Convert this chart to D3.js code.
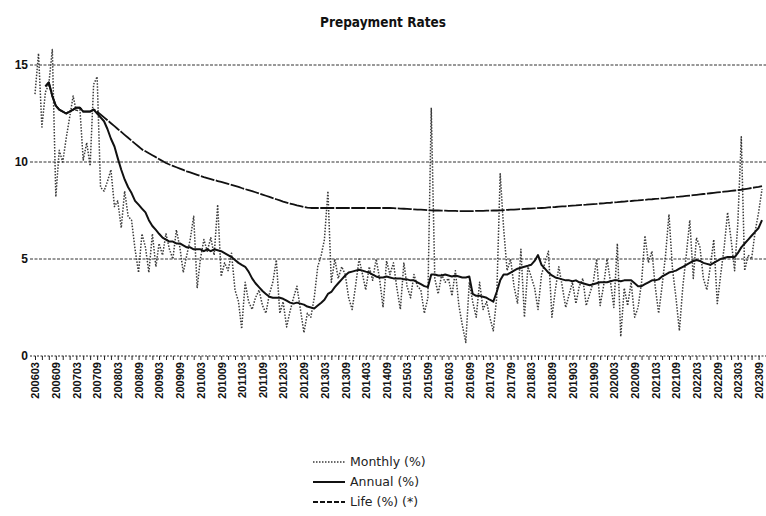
<!DOCTYPE html>
<html>
<head>
<meta charset="utf-8">
<script src="https://cdn.jsdelivr.net/npm/d3@7"></script>
<style>
    body { margin: 0; background: #fff; }
    svg { display: block; font-family: "DejaVu Sans Condensed", "DejaVu Sans", sans-serif; }
</style>
</head>
<body>
<svg id="prepayment"></svg>
<script>
// first month of the series (200603)
const firstMonth = "200603";

// Monthly (%) - one value per month from 200603
const monthlyRate = [
    13.5, 15.6, 11.8, 13.6, 14.0, 15.8, 8.2, 10.6, 10.0, 11.2,
    12.3, 13.4, 12.6, 12.8, 10.1, 11.0, 9.8, 14.0, 14.4, 8.7,
    8.5, 9.0, 9.6, 7.7, 8.0, 6.6, 8.5, 7.2, 7.0, 5.5,
    4.3, 6.3, 5.6, 4.3, 6.3, 4.6, 5.8, 5.2, 6.3, 5.5,
    5.0, 6.5, 5.6, 4.3, 5.2, 6.0, 7.2, 3.5, 5.0, 6.0,
    5.4, 6.1, 5.2, 7.8, 4.1, 4.8, 4.4, 5.3, 3.4, 2.8,
    1.4, 3.8, 2.8, 2.4, 3.0, 3.4, 2.6, 2.2, 3.2, 3.8,
    4.95, 2.2, 2.8, 1.5, 2.3, 3.0, 3.6, 2.4, 1.2, 2.2,
    2.0, 3.0, 4.6, 5.2, 6.0, 8.5, 3.8, 5.0, 4.0, 4.6,
    4.2, 3.0, 2.4, 3.6, 5.0, 4.2, 3.4, 4.6, 3.9, 5.0,
    4.0, 2.5, 4.9, 4.2, 4.8, 3.5, 2.4, 4.8, 3.6, 3.0,
    4.2, 3.6, 3.4, 2.2, 3.0, 12.8, 4.0, 3.2, 4.2, 3.8,
    4.0, 3.1, 4.4, 2.6, 1.6, 0.7, 3.8, 2.8, 2.0, 3.8,
    2.4, 2.8, 2.0, 1.3, 3.0, 9.4, 6.6, 4.4, 5.0, 3.6,
    2.7, 5.5, 2.0, 4.6, 4.1, 3.5, 2.4, 4.2, 4.8, 5.4,
    2.0, 3.4, 4.6, 3.6, 2.5, 3.2, 3.8, 2.7, 3.6, 4.0,
    2.6, 3.2, 3.8, 5.0, 2.6, 3.6, 5.0, 3.8, 2.5, 5.8,
    1.0, 3.5, 2.6, 3.8, 2.0, 2.5, 3.8, 6.2, 4.8, 5.4,
    3.6, 2.2, 3.6, 5.2, 7.3, 4.5, 3.0, 1.3, 3.6, 5.2,
    7.0, 4.0, 6.1, 5.6, 4.0, 3.4, 4.6, 6.0, 2.7, 4.2,
    5.6, 7.4, 6.0, 4.4, 6.8, 11.3, 4.4, 5.2, 5.0, 6.4,
    7.4, 8.6
];

// Annual (%) - same months, empty before the first full value
const annualRate = [
    null, null, null, 13.9, 14.1, 13.4, 12.9, 12.7, 12.6, 12.5,
    12.6, 12.7, 12.8, 12.8, 12.6, 12.6, 12.6, 12.7, 12.5, 12.3,
    12.1, 11.7, 11.2, 10.8, 10.2, 9.6, 9.1, 8.7, 8.4, 8.0,
    7.8, 7.6, 7.4, 7.0, 6.7, 6.5, 6.3, 6.1, 6.0, 5.9,
    5.9, 5.8, 5.8, 5.7, 5.6, 5.6, 5.5, 5.5, 5.5, 5.4,
    5.5, 5.4, 5.5, 5.45, 5.4, 5.3, 5.2, 5.1, 4.95, 4.8,
    4.7, 4.6, 4.35, 4.0, 3.75, 3.55, 3.35, 3.2, 3.05, 3.0,
    3.0, 3.0, 2.95, 2.85, 2.75, 2.7, 2.75, 2.7, 2.65, 2.55,
    2.5, 2.45, 2.6, 2.75, 2.9, 3.2, 3.3, 3.55, 3.75, 3.95,
    4.15, 4.3, 4.35, 4.4, 4.45, 4.4, 4.35, 4.3, 4.2, 4.1,
    4.05, 4.05, 4.1, 4.05, 4.0, 4.0, 4.0, 3.95, 3.95, 3.9,
    3.9, 3.8, 3.7, 3.6, 3.55, 4.2, 4.2, 4.15, 4.15, 4.2,
    4.15, 4.1, 4.15, 4.1, 4.05, 4.05, 4.1, 3.2, 3.1, 3.1,
    3.05, 3.0, 2.9, 2.8, 3.3, 3.9, 4.2, 4.2, 4.3, 4.4,
    4.5, 4.55, 4.6, 4.65, 4.7, 4.9, 5.2, 4.7, 4.5, 4.3,
    4.15, 4.05, 4.0, 3.95, 3.9, 3.9, 3.85, 3.9, 3.8, 3.75,
    3.7, 3.65, 3.7, 3.75, 3.8, 3.8, 3.8, 3.85, 3.9, 3.9,
    3.85, 3.9, 3.9, 3.9, 3.75, 3.6, 3.6, 3.7, 3.8, 3.9,
    3.9, 3.95, 4.1, 4.2, 4.3, 4.35, 4.4, 4.5, 4.6, 4.7,
    4.8, 4.9, 4.95, 4.9, 4.8, 4.75, 4.7, 4.8, 4.9, 5.0,
    5.05, 5.1, 5.1, 5.1, 5.3, 5.6, 5.8, 6.0, 6.2, 6.4,
    6.6, 7.0
];

// Life (%) (*) - same months
const lifeRate = [
    null, null, null, 13.9, 14.1, 13.4, 12.9, 12.7, 12.6, 12.5,
    12.6, 12.7, 12.8, 12.8, 12.6, 12.6, 12.6, 12.7, 12.6, 12.45,
    12.3, 12.15, 12.0, 11.85, 11.7, 11.55, 11.4, 11.25, 11.1, 10.95,
    10.8, 10.65, 10.55, 10.45, 10.35, 10.25, 10.15, 10.05, 9.95, 9.87,
    9.8, 9.73, 9.66, 9.59, 9.52, 9.46, 9.4, 9.34, 9.28, 9.22,
    9.17, 9.12, 9.07, 9.02, 8.97, 8.92, 8.87, 8.82, 8.77, 8.72,
    8.66, 8.6, 8.55, 8.5, 8.44, 8.38, 8.32, 8.26, 8.2, 8.14,
    8.08, 8.02, 7.96, 7.91, 7.86, 7.81, 7.76, 7.72, 7.68, 7.65,
    7.63, 7.63, 7.63, 7.63, 7.63, 7.63, 7.63, 7.63, 7.63, 7.63,
    7.63, 7.63, 7.63, 7.63, 7.63, 7.63, 7.63, 7.63, 7.63, 7.63,
    7.63, 7.63, 7.63, 7.63, 7.62, 7.61, 7.6, 7.59, 7.58, 7.57,
    7.56, 7.55, 7.54, 7.53, 7.52, 7.51, 7.5, 7.5, 7.49, 7.49,
    7.48, 7.48, 7.48, 7.47, 7.47, 7.47, 7.47, 7.47, 7.48, 7.48,
    7.48, 7.49, 7.49, 7.5, 7.5, 7.51, 7.52, 7.53, 7.54, 7.55,
    7.56, 7.57, 7.58, 7.59, 7.6, 7.61, 7.62, 7.63, 7.64, 7.66,
    7.67, 7.68, 7.7, 7.71, 7.72, 7.74, 7.75, 7.76, 7.78, 7.79,
    7.8, 7.82, 7.83, 7.84, 7.86, 7.87, 7.89, 7.9, 7.92, 7.93,
    7.95, 7.96, 7.98, 7.99, 8.01, 8.02, 8.04, 8.05, 8.07, 8.08,
    8.1, 8.11, 8.13, 8.14, 8.16, 8.18, 8.2, 8.21, 8.23, 8.25,
    8.27, 8.29, 8.31, 8.33, 8.35, 8.37, 8.39, 8.41, 8.43, 8.45,
    8.47, 8.49, 8.51, 8.53, 8.55, 8.57, 8.6, 8.63, 8.66, 8.69,
    8.72, 8.76
];

const yTicks = [0, 5, 10, 15];
const seriesNames = ["Monthly (%)", "Annual (%)", "Life (%) (*)"];
const chartTitle = "Prepayment Rates";

// svg size
var wtot = 766,
    htot = 516;

const svg = d3.select("#prepayment")
    .attr("width", wtot)
    .attr("height", htot);

// months of the series
const parseMonth = d3.timeParse("%Y%m");
const start = parseMonth(firstMonth);
const months = d3.range(monthlyRate.length).map(i => d3.timeMonth.offset(start, i));

// scales
const xScale = d3.scaleTime([months[0], months[months.length - 1]], [35, 762]);
const yScale = d3.scaleLinear([0, 15], [356, 65]);

// title
svg.append("text")
    .attr("x", 383)
    .attr("y", 27)
    .attr("text-anchor", "middle")
    .style("font-size", "13.5px")
    .style("font-weight", "bold")
    .attr("fill", "#111")
    .text(chartTitle);

// gridlines
svg.append("g")
    .selectAll("line")
    .data(yTicks.filter(d => d > 0))
    .join("line")
    .attr("x1", 30)
    .attr("x2", wtot)
    .attr("y1", d => yScale(d))
    .attr("y2", d => yScale(d))
    .attr("stroke", "#333")
    .attr("stroke-width", 1)
    .attr("stroke-dasharray", "3,1.5");

// y axis labels
svg.append("g")
    .attr("transform", "translate(28,0)")
    .call(d3.axisLeft(yScale).tickValues(yTicks).tickSize(0).tickPadding(0))
    .call(g => g.select(".domain").remove())
    .call(g => g.selectAll("text")
        .attr("fill", "#111")
        .style("font-size", "12px")
        .style("font-weight", "bold"));

// x axis: small ticks every 2 months, labels every 6 months
const tickMonths = months.filter((d, i) => i % 2 === 0);
const labelMonths = months.filter((d, i) => i % 6 === 0);

svg.append("g")
    .attr("transform", `translate(0,${yScale(0)})`)
    .call(d3.axisBottom(xScale).tickValues(tickMonths).tickSize(4).tickFormat(""))
    .call(g => g.select(".domain").remove())
    .call(g => g.selectAll(".tick line").attr("stroke", "#222"));

svg.append("line")
    .attr("x1", 30)
    .attr("x2", wtot)
    .attr("y1", yScale(0))
    .attr("y2", yScale(0))
    .attr("stroke", "#222")
    .attr("stroke-dasharray", "2,1.5");

svg.append("g")
    .attr("transform", `translate(0,${yScale(0)})`)
    .call(d3.axisBottom(xScale).tickValues(labelMonths).tickSize(0).tickFormat(d3.timeFormat("%Y%m")))
    .call(g => g.select(".domain").remove())
    .call(g => g.selectAll("text")
        .attr("transform", "rotate(-90)")
        .attr("x", -6)
        .attr("y", 0)
        .attr("dy", "0.35em")
        .attr("fill", "#111")
        .style("text-anchor", "end")
        .style("font-size", "11px")
        .style("font-weight", "bold"));

// lines
const lineFor = values => d3.line()
    .defined(i => values[i] != null)
    .x(i => xScale(months[i]))
    .y(i => yScale(values[i]));

const I = d3.range(months.length);
const styles = [
    { values: monthlyRate, color: "#3a3a3a", width: 1.5, dash: "1.5,1.5" },
    { values: annualRate, color: "#111", width: 2, dash: null },
    { values: lifeRate, color: "#111", width: 1.8, dash: "14,1.5" }
];

svg.append("g")
    .attr("fill", "none")
    .selectAll("path")
    .data(styles)
    .join("path")
    .attr("stroke", d => d.color)
    .attr("stroke-width", d => d.width)
    .attr("stroke-dasharray", d => d.dash)
    .attr("stroke-linejoin", "round")
    .attr("d", d => lineFor(d.values)(I));

// legend
const legend = svg.append("g")
    .attr("transform", "translate(313,462)");

const item = legend.selectAll("g")
    .data(styles)
    .join("g")
    .attr("transform", (d, i) => `translate(0,${i * 20})`);

item.append("line")
    .attr("x1", 0)
    .attr("x2", 32)
    .attr("stroke", d => d.color)
    .attr("stroke-width", d => d.width)
    .attr("stroke-dasharray", (d, i) => i === 2 ? "5,2" : d.dash);

item.append("text")
    .attr("x", 37)
    .attr("dy", "0.35em")
    .attr("fill", "#222")
    .style("font-family", "'DejaVu Sans', sans-serif")
    .style("font-size", "12.5px")
    .text((d, i) => seriesNames[i]);
</script>
</body>
</html>
